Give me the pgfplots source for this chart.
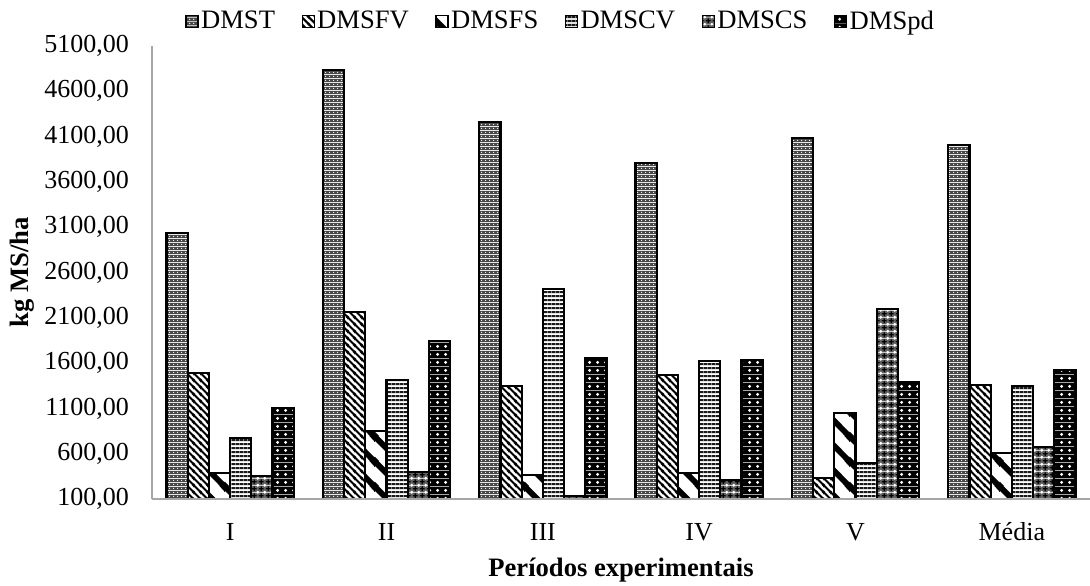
\documentclass[border=0pt]{standalone}
\usepackage{pgfplots}
\pgfplotsset{compat=1.18}
\usepackage{fontspec}
\setmainfont{Liberation Serif}
\usetikzlibrary{patterns.meta}

% Coloured fill patterns for the six series
\pgfdeclarepattern{name=pDMST, type=colored,
  bottom left={\pgfpoint{0pt}{0pt}}, top right={\pgfpoint{2pt}{2pt}}, tile size={\pgfpoint{2pt}{2pt}},
  code={
    \pgfsetfillcolor{black!72}
    \pgfpathrectangle{\pgfpointorigin}{\pgfpoint{2pt}{2pt}}\pgfusepath{fill}
    \pgfsetfillcolor{white}
    \pgfpathcircle{\pgfpoint{1pt}{1pt}}{0.4pt}\pgfusepath{fill}
  }}
\pgfdeclarepattern{name=pDMSFV, type=colored,
  bottom left={\pgfpoint{0pt}{0pt}}, top right={\pgfpoint{3.6pt}{3.6pt}}, tile size={\pgfpoint{3.6pt}{3.6pt}},
  code={
    \pgfsetfillcolor{white}
    \pgfpathrectangle{\pgfpointorigin}{\pgfpoint{3.6pt}{3.6pt}}\pgfusepath{fill}
    \pgfsetstrokecolor{black}\pgfsetlinewidth{1.1pt}
    \pgfpathmoveto{\pgfpoint{-1pt}{4.6pt}}\pgfpathlineto{\pgfpoint{4.6pt}{-1pt}}
    \pgfpathmoveto{\pgfpoint{-1.8pt}{1.8pt}}\pgfpathlineto{\pgfpoint{1.8pt}{-1.8pt}}
    \pgfpathmoveto{\pgfpoint{1.8pt}{5.4pt}}\pgfpathlineto{\pgfpoint{5.4pt}{1.8pt}}
    \pgfusepath{stroke}
  }}
\pgfdeclarepattern{name=pDMSFS, type=colored,
  bottom left={\pgfpoint{0pt}{0pt}}, top right={\pgfpoint{12.5pt}{12.5pt}}, tile size={\pgfpoint{12.5pt}{12.5pt}},
  code={
    \pgfsetfillcolor{white}
    \pgfpathrectangle{\pgfpointorigin}{\pgfpoint{12.5pt}{12.5pt}}\pgfusepath{fill}
    \pgfsetstrokecolor{black}\pgfsetlinewidth{3pt}
    \pgfpathmoveto{\pgfpoint{-2pt}{14.5pt}}\pgfpathlineto{\pgfpoint{14.5pt}{-2pt}}
    \pgfpathmoveto{\pgfpoint{-6.25pt}{6.25pt}}\pgfpathlineto{\pgfpoint{6.25pt}{-6.25pt}}
    \pgfpathmoveto{\pgfpoint{6.25pt}{18.75pt}}\pgfpathlineto{\pgfpoint{18.75pt}{6.25pt}}
    \pgfusepath{stroke}
  }}
\pgfdeclarepattern{name=pDMSCV, type=colored,
  bottom left={\pgfpoint{0pt}{0pt}}, top right={\pgfpoint{2pt}{2.2pt}}, tile size={\pgfpoint{2pt}{2.2pt}},
  code={
    \pgfsetfillcolor{white}
    \pgfpathrectangle{\pgfpointorigin}{\pgfpoint{2pt}{2.2pt}}\pgfusepath{fill}
    \pgfsetfillcolor{black!90}
    \pgfpathrectangle{\pgfpoint{0pt}{0.5pt}}{\pgfpoint{2pt}{1.2pt}}\pgfusepath{fill}
  }}
\pgfdeclarepattern{name=pDMSCS, type=colored,
  bottom left={\pgfpoint{0pt}{0pt}}, top right={\pgfpoint{3.6pt}{3.6pt}}, tile size={\pgfpoint{3.6pt}{3.6pt}},
  code={
    \pgfsetfillcolor{black!62}
    \pgfpathrectangle{\pgfpointorigin}{\pgfpoint{3.6pt}{3.6pt}}\pgfusepath{fill}
    \pgfsetstrokecolor{black}\pgfsetlinewidth{0.7pt}
    \pgfpathmoveto{\pgfpoint{0.5pt}{1.8pt}}\pgfpathlineto{\pgfpoint{3.1pt}{1.8pt}}
    \pgfpathmoveto{\pgfpoint{1.8pt}{0.5pt}}\pgfpathlineto{\pgfpoint{1.8pt}{3.1pt}}
    \pgfusepath{stroke}
    \pgfsetfillcolor{white}
    \pgfpathcircle{\pgfpoint{0pt}{0pt}}{0.6pt}
    \pgfpathcircle{\pgfpoint{3.6pt}{0pt}}{0.6pt}
    \pgfpathcircle{\pgfpoint{0pt}{3.6pt}}{0.6pt}
    \pgfpathcircle{\pgfpoint{3.6pt}{3.6pt}}{0.6pt}
    \pgfusepath{fill}
  }}
\pgfdeclarepattern{name=pDMSpd, type=colored,
  bottom left={\pgfpoint{0pt}{0pt}}, top right={\pgfpoint{3.8pt}{3.8pt}}, tile size={\pgfpoint{3.8pt}{3.8pt}},
  code={
    \pgfsetfillcolor{black}
    \pgfpathrectangle{\pgfpointorigin}{\pgfpoint{3.8pt}{3.8pt}}\pgfusepath{fill}
    \pgfsetfillcolor{white}
    \pgfpathcircle{\pgfpoint{1.9pt}{1.9pt}}{0.8pt}\pgfusepath{fill}
  }}

\begin{document}
\begin{tikzpicture}
\path[use as bounding box] (-76pt,-43pt) rectangle (469pt,249.5pt);
\begin{axis}[
  scale only axis, width=469pt, height=226.5pt,
  ybar=0pt, bar width=10.6pt,
  xmin=-0.5, xmax=5.5, ymin=100, ymax=5100,
  xtick={0,...,5}, xticklabels={I,II,III,IV,V,Média},
  ytick={100,600,...,5100},
  major tick length=0pt,
  axis x line=bottom, axis y line=left,
  axis line style={-, draw=gray!70, line width=0.8pt},
  axis on top,
  tick label style={font=\fontsize{13}{15}\selectfont},
  yticklabel style={anchor=east, xshift=-8pt,
    /pgf/number format/.cd, fixed, fixed zerofill, precision=2, use comma, 1000 sep={}, assume math mode=true},
  xticklabel style={anchor=base, yshift=-20.5pt},
  ylabel={\textbf{kg MS/ha}},
  ylabel style={at={(axis description cs:-0.1386,0.5)}, anchor=center, font=\fontsize{13.3}{15}\selectfont},
  xlabel={\textbf{Períodos experimentais}},
  xlabel style={at={(axis description cs:0.5,-0.1567)}, anchor=center, font=\fontsize{13.3}{15}\selectfont},
  legend columns=6,
  legend image code/.code={\draw[#1, line width=0.6pt] (0pt,-3pt) rectangle (6pt,3pt);},
  legend style={draw=none, fill=none, at={(axis description cs:0.0352,1.054)}, anchor=west,
    font=\fontsize{13.3}{15}\selectfont, inner xsep=0pt, nodes={inner sep=1.25pt},
    /tikz/every even column/.append style={column sep=12pt}},
  every axis plot/.append style={draw=black, line width=1.1pt},
]
\addplot[pattern=pDMST]  coordinates {(0,3033) (1,4835) (2,4265) (3,3805) (4,4081) (5,4007)};
\addplot[pattern=pDMSFV] coordinates {(0,1487) (1,2161) (2,1347) (3,1469) (4,335) (5,1358)};
\addplot[pattern=pDMSFS] coordinates {(0,390) (1,854) (2,365) (3,390) (4,1046) (5,611)};
\addplot[pattern=pDMSCV] coordinates {(0,777) (1,1410) (2,2414) (3,1627) (4,494) (5,1347)};
\addplot[pattern=pDMSCS] coordinates {(0,357) (1,398) (2,133) (3,310) (4,2201) (5,677)};
\addplot[pattern=pDMSpd] coordinates {(0,1101) (1,1844) (2,1660) (3,1634) (4,1395) (5,1524)};
\legend{DMST,DMSFV,DMSFS,DMSCV,DMSCS,DMSpd}
\end{axis}
\end{tikzpicture}
\end{document}
